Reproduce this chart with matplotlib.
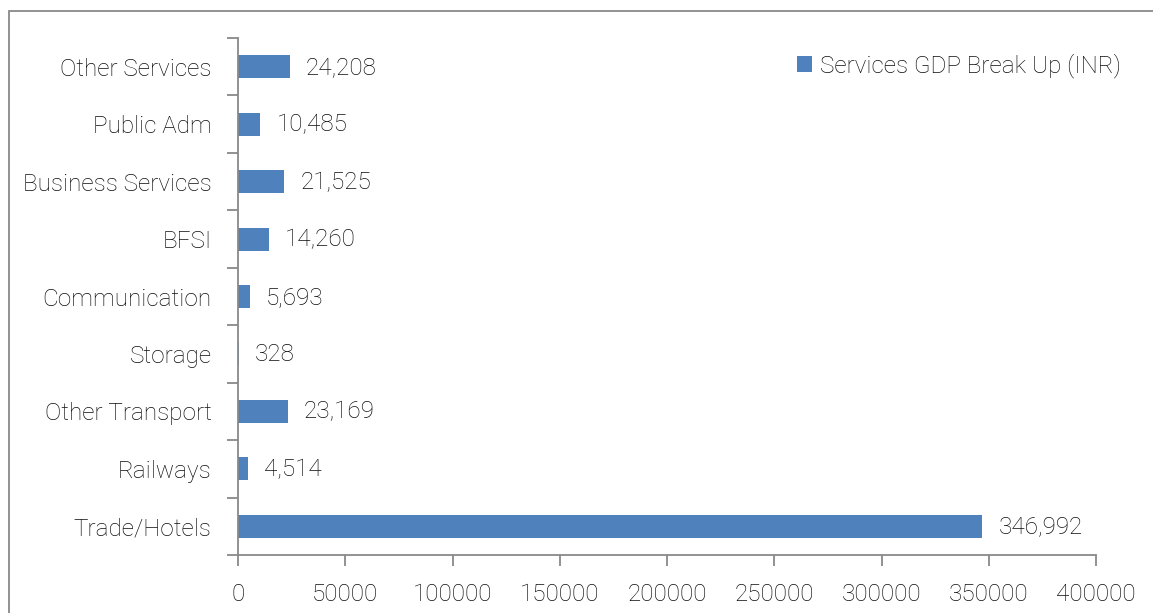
import matplotlib
matplotlib.use("Agg")
import matplotlib.pyplot as plt
from matplotlib.patches import Rectangle

categories = ["Trade/Hotels", "Railways", "Other Transport", "Storage", "Communication",
              "BFSI", "Business Services", "Public Adm", "Other Services"]
values = [346992, 4514, 23169, 328, 5693, 14260, 21525, 10485, 24208]
xticks = [0, 50000, 100000, 150000, 200000, 250000, 300000, 350000, 400000]
series_name = "Services GDP Break Up (INR)"

plt.rcParams['font.family'] = ['Roboto', 'DejaVu Sans']
plt.rcParams['font.weight'] = 'light'

FS = 17.5
TXT = '#0d0d0d'

fig = plt.figure(figsize=(11.53, 6.13), dpi=100)
ax = fig.add_axes([238/1153, 1-555/613, (1096-238)/1153, (555-38)/613])

fig.patches.append(Rectangle((9/1153, -0.1), 1.2, 1-11/613+0.1, transform=fig.transFigure,
                             fill=False, edgecolor='#898989', linewidth=1.3))

color = '#4F81BD'
y = list(range(len(categories)))
ax.barh(y, values, height=0.4, color=color, label=series_name)
for yi, v in zip(y, values):
    ax.annotate(f"{v:,}", xy=(v, yi), xytext=(11.5, -0.5), textcoords='offset points',
                va='center', ha='left', fontsize=FS, color=TXT)

ax.set_xlim(0, 400000)
ax.set_ylim(-0.5, len(categories) - 0.5)
ax.set_xticks(xticks)
ax.set_xticklabels([str(t) for t in xticks], fontsize=FS, color=TXT)
ax.set_yticks(y)
ax.set_yticklabels(categories, fontsize=FS, color=TXT)
ax.set_yticks([i - 0.5 for i in range(len(categories) + 1)], minor=True)
ax.tick_params(axis='y', which='major', length=0, pad=19)
ax.tick_params(axis='y', which='minor', length=8, color='#898989', width=1.3, direction='out')
ax.tick_params(axis='x', length=8, color='#898989', width=1.3, direction='out', pad=12)

for s in ['top', 'right']:
    ax.spines[s].set_visible(False)
for s in ['left', 'bottom']:
    ax.spines[s].set_color('#898989')
    ax.spines[s].set_linewidth(1.3)

leg = fig.legend(loc='center left', bbox_to_anchor=(797/1153, 1-66/613), frameon=False,
                 fontsize=FS, handlelength=0.62, handleheight=0.62, handletextpad=0.33,
                 borderpad=0, borderaxespad=0)
for t in leg.get_texts():
    t.set_color(TXT)

fig.savefig("out.png", dpi=100)
